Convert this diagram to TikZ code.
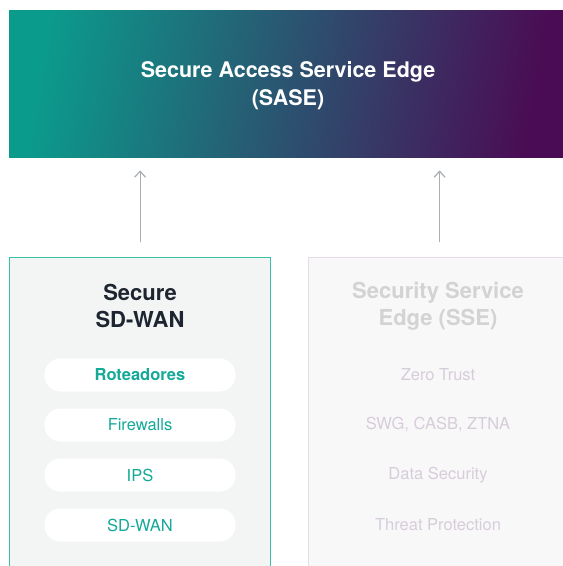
\documentclass[tikz,border=0pt]{standalone}
\usepackage{fontspec}
\setmainfont{TeX Gyre Heros}
\usetikzlibrary{positioning,arrows.meta}

\definecolor{saseteal}{HTML}{0B9B8C}
\definecolor{sasemid}{HTML}{2A4F6C}
\definecolor{saseplum}{HTML}{4A0D55}
\definecolor{wanline}{HTML}{38C1A9}
\definecolor{wanfill}{HTML}{F3F5F5}
\definecolor{wantext}{HTML}{14A999}
\definecolor{headdark}{HTML}{1D2630}
\definecolor{sseline}{HTML}{E5DCE8}
\definecolor{ssefill}{HTML}{F8F8F8}
\definecolor{ssehead}{HTML}{D3D3D3}
\definecolor{ssetext}{HTML}{D7CDDA}
\definecolor{arrowgray}{HTML}{A9AEB2}

\tikzset{
	panel/.style={anchor=north west, inner sep=0pt, minimum height=330pt, line width=1.2pt},
	head/.style={align=center, font=\fontsize{22}{27}\selectfont\bfseries},
	pill/.style={fill=white, rounded corners=16pt, minimum width=191pt, minimum height=33pt, inner sep=0pt, text=wantext, font=\fontsize{16.5}{18}\selectfont},
	sseitem/.style={text=ssetext, font=\fontsize{16.5}{18}\selectfont},
	flow/.style={-{Straight Barb[length=6pt, width=11pt, line width=1.2pt]}, draw=arrowgray, line width=1.2pt},
}

\begin{document}
\begin{tikzpicture}[x=1pt, y=-1pt]
		%%%%% START %%%%%
		
		\clip (0, 0) rectangle (563, 566);
		\fill[white] (0, 0) rectangle (563, 566);
		
		% top band
		\node[anchor=north west, inner sep=0pt, minimum width=554pt, minimum height=147pt, left color=saseteal, middle color=sasemid, right color=saseplum, shading angle=80] (sase) at (9, 10) {};
		\node[head, text=white, font=\fontsize{21.5}{28}\selectfont\bfseries] (sasetitle) at (288, 85.5) {Secure Access Service Edge\\(SASE)};
		
		% left panel
		\node[panel, minimum width=261pt, fill=wanfill, draw=wanline] (wanbox) at (9, 257) {};
		\node[head, text=headdark] (wanhead) at (140, 306) {Secure\\SD-WAN};
		
		\node[pill, font=\fontsize{16.5}{18}\selectfont\bfseries] (router) at (140, 375) {Roteadores};
		\node[pill] (firewall) at (140, 425) {Firewalls};
		\node[pill] (ips) at (140, 475) {IPS};
		\node[pill] (sdwan) at (140, 525) {SD-WAN};
		
		% right panel
		\node[panel, minimum width=262pt, fill=ssefill, draw=sseline] (ssebox) at (308, 257) {};
		\node[head, text=ssehead] (ssehead) at (438, 306) {Security Service\\Edge (SSE)};
		
		\node[sseitem] (zerotrust) at (438, 375) {Zero Trust};
		\node[sseitem] (swg) at (438, 425) {SWG, CASB, ZTNA};
		\node[sseitem] (datasec) at (438, 475) {Data Security};
		\node[sseitem] (threat) at (438, 525) {Threat Protection};
		
		% arrows up
		\draw[flow] ([yshift=15pt]wanbox.north) -- ([yshift=-13pt]wanbox.north |- sase.south);
		\draw[flow] ([yshift=15pt]ssebox.north) -- ([yshift=-13pt]ssebox.north |- sase.south);
		
		%%%%% END %%%%%
\end{tikzpicture}
\end{document}
